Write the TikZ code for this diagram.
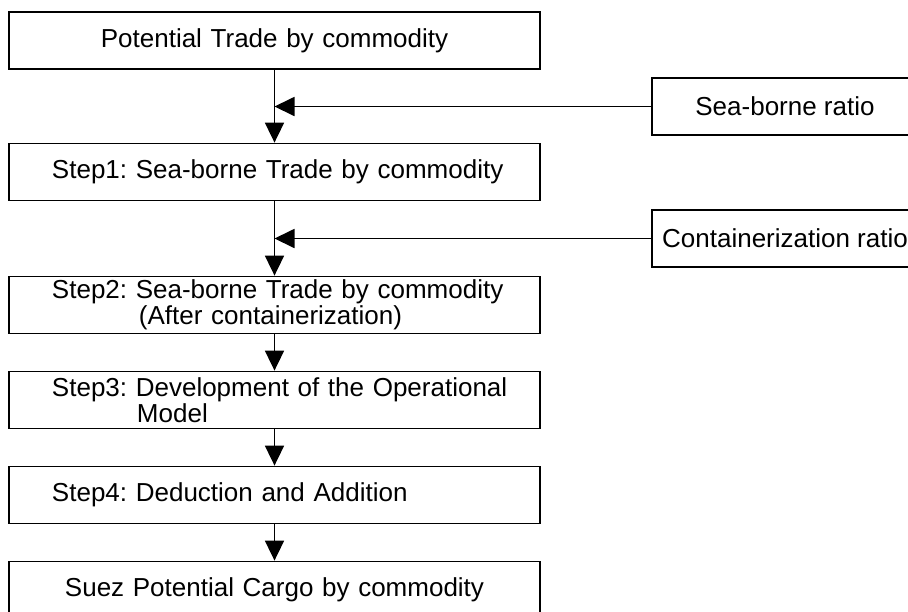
\documentclass[tikz,border=0pt]{standalone}
\usepackage{fontspec}
\setmainfont{Liberation Sans}
\usetikzlibrary{arrows.meta}
\begin{document}
\frenchspacing
\begin{tikzpicture}[x=1pt,y=-1pt,
  box/.style={draw, line width=1.8pt, minimum width=531pt, minimum height=57pt,
    inner xsep=0pt, inner ysep=0pt, text width=531pt,
    font=\fontsize{26}{26}\selectfont},
  cbox/.style={box, align=center},
  lbox/.style={box, align=left},
  rbox/.style={draw, line width=1.8pt, minimum width=266pt, minimum height=57pt,
    inner sep=0pt, font=\fontsize{26}{26}\selectfont},
  arr/.style={line width=1.8pt, -{Triangle[length=20pt,width=19pt]}}]
\useasboundingbox (0,0) rectangle (908,611);
\clip (0,0) rectangle (908,611);
\node[cbox] (b0) at (274.5,40.5) {Potential Trade by commodity};
\node[lbox] (b1) at (274.5,172) {\hspace*{43pt}Step1: Sea-borne Trade by commodity};
\node[lbox] (b2) at (274.5,305) {\hspace*{43pt}Step2: Sea-borne Trade by commodity\\\hspace*{130pt}(After containerization)};
\node[lbox] (b3) at (274.5,400) {\hspace*{43pt}Step3: Development of the Operational\\\hspace*{128pt}Model};
\node[lbox] (b4) at (274.5,495) {\hspace*{43pt}Step4: Deduction and Addition};
\node[cbox] (b5) at (274.5,590) {Suez Potential Cargo by commodity};
\node[rbox] (r1) at (785,106.5) {Sea-borne ratio};
\node[rbox] (r2) at (785,238.5) {Containerization ratio};
\draw[arr] (b0) -- (b1);
\draw[arr] (b1) -- (b2);
\draw[arr] (b2) -- (b3);
\draw[arr] (b3) -- (b4);
\draw[arr] (b4) -- (b5);
\draw[arr] (r1) -- (r1 -| b0);
\draw[arr] (r2) -- (r2 -| b0);
\end{tikzpicture}
\end{document}
